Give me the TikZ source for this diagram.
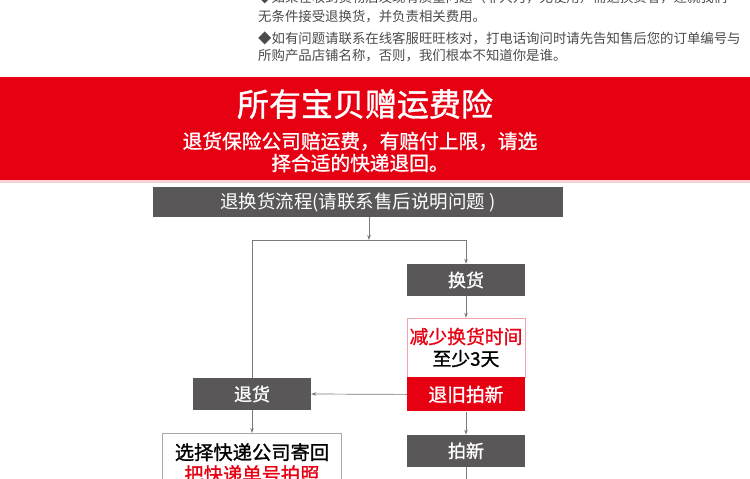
\documentclass[tikz,border=0pt]{standalone}
\usepackage{fontspec}
\setmainfont{Noto Sans CJK SC}[AutoFakeBold=1.2]
\usetikzlibrary{positioning,arrows.meta}
\definecolor{bandred}{HTML}{E60012}
\definecolor{boxgray}{HTML}{595757}
\definecolor{linegray}{HTML}{7A7A7A}
\definecolor{notegray}{HTML}{4A4A4A}
\definecolor{pinkline}{HTML}{F3A3AD}
\definecolor{framegray}{HTML}{A8A8A8}

\begin{document}
\begin{tikzpicture}[
  x=1pt, y=-1pt,
  note/.style={anchor=west, inner sep=0pt, text=notegray, font=\fontsize{13.4}{15}\selectfont},
  graybox/.style={fill=boxgray, text=white, minimum width=118pt, minimum height=32pt, inner sep=0pt, font=\fontsize{18}{20}\selectfont},
  flow/.style={draw=linegray, line width=0.7pt, -{Stealth[length=5pt,width=3.5pt]}},
  plain/.style={draw=linegray, line width=0.7pt}
]
\useasboundingbox (0,0) rectangle (750,479);
\clip (0,0) rectangle (750,479);

% notes at the top
\node[note] (note0) at (258,-3) {◆如果在收到货物后发现有质量问题（非人为，无使用）需退换货者，迁就我们};
\node[note] (note1) at (258,17) {无条件接受退换货，并负责相关费用。};
\node[note] (note2) at (258,38) {◆如有问题请联系在线客服旺旺核对，打电话询问时请先告知售后您的订单编号与};
\node[note] (note3) at (258,56) {所购产品店铺名称，否则，我们根本不知道你是谁。};

% red band
\fill[bandred] (0,77) rectangle (750,180);
\fill[pinkline!50] (0,180) rectangle (750,183);
\node[text=white, font=\fontsize{32}{34}\selectfont\bfseries] (title) at (365,104) {所有宝贝赠运费险};
\node[text=white, font=\fontsize{19.7}{22}\selectfont\bfseries, align=center] (subtitle) at (360,152)
  {退货保险公司赔运费，有赔付上限，请选\\择合适的快递退回。};

% flow boxes
\node[graybox, minimum width=410pt, minimum height=30pt, font=\fontsize{18.5}{20}\selectfont] (head) at (358,202) {退换货流程(请联系售后说明问题 )};
\node[graybox, font=\fontsize{18}{20}\selectfont\bfseries] (huanhuo) at (466,280) {换货};
\node[draw=pinkline, fill=white, minimum width=118pt, minimum height=59pt, inner sep=0pt,
  font=\fontsize{18.8}{22}\selectfont\bfseries, align=center] (jianshao) at (466,347.5)
  {\textcolor{bandred}{减少换货时间}\\至少3天};
\node[fill=bandred, text=white, minimum width=118pt, minimum height=34pt, inner sep=0pt,
  font=\fontsize{18.8}{20}\selectfont\bfseries, below=0pt of jianshao] (tuijiu) {退旧拍新};
\node[graybox, font=\fontsize{18}{20}\selectfont\bfseries] (tuihuo) at (252,394) {退货};
\node[graybox, font=\fontsize{18}{20}\selectfont\bfseries, below=23pt of tuijiu] (paixin) {拍新};
\node[draw=framegray, fill=white, minimum width=179pt, minimum height=60pt, inner sep=0pt,
  anchor=north, font=\fontsize{19.3}{22}\selectfont\bfseries, align=center] (jidan) at (252,433)
  {选择快递公司寄回\\\textcolor{bandred}{把快递单号拍照}};

% connectors
\coordinate (split) at (369,240);
\draw[flow] (split |- head.south) -- (split);
\draw[plain] (tuihuo.north |- split) -- (huanhuo.north |- split);
\draw[flow] (huanhuo.north |- split) -- (huanhuo.north);
\draw[plain] (tuihuo.north |- split) -- (tuihuo.north);
\draw[flow] (huanhuo.south) -- (jianshao.north);
\draw[flow] (tuijiu.west) -- (tuihuo.east);
\draw[flow] (tuihuo.south) -- (jidan.north);
\draw[flow] (tuijiu.south) -- (paixin.north);
\draw[plain] (paixin.south) -- ++(0,20);
\end{tikzpicture}
\end{document}
